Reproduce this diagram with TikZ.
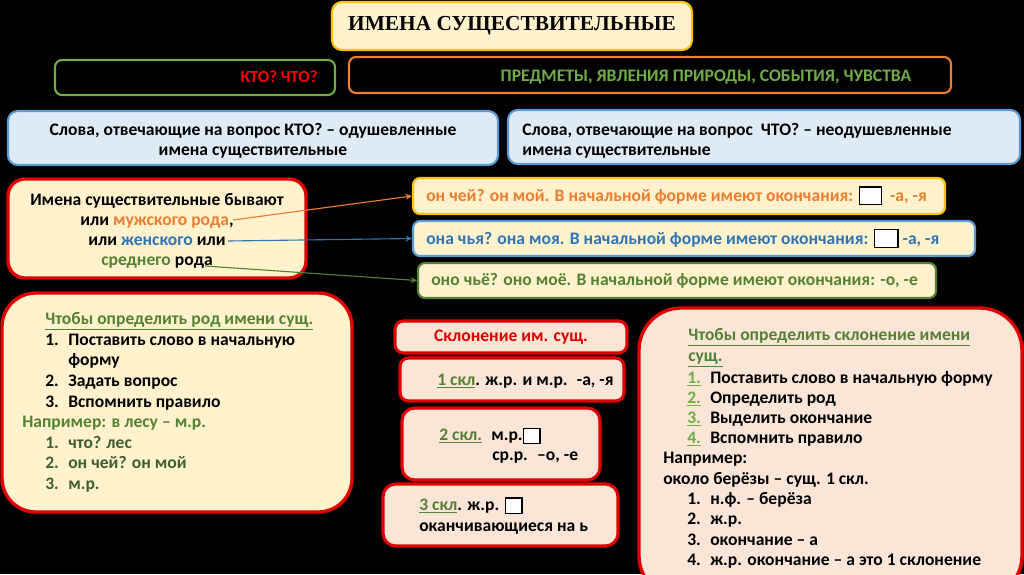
\documentclass[tikz,border=0pt]{standalone}
\usepackage{fontspec}
\setmainfont{Carlito}
\newfontfamily\titlefont{Liberation Serif}
\usetikzlibrary{arrows.meta}

\definecolor{cream}{HTML}{FFF2CC}
\definecolor{pinkish}{HTML}{FBE5D6}
\definecolor{skyfill}{HTML}{DEEBF7}
\definecolor{gold}{HTML}{FFC000}
\definecolor{grn}{HTML}{70AD47}
\definecolor{dgrn}{HTML}{548235}
\definecolor{exgrn}{HTML}{3F5F30}
\definecolor{orng}{HTML}{ED7D31}
\definecolor{blu}{HTML}{5B9BD5}
\definecolor{dblu}{HTML}{2E75B6}
\definecolor{rd}{HTML}{E00000}

% empty square = zero ending
\newcommand{\zerobox}[2]{\raisebox{-2pt}{\setlength{\fboxsep}{0pt}\setlength{\fboxrule}{0.9pt}\fcolorbox{black}{white}{\rule{0pt}{#2}\hspace{#1}}}}

\begin{document}
\begin{tikzpicture}[x=0.025cm, y=-0.025cm, font=\bfseries\fontsize{12.5}{15}\selectfont,
  panel/.style 2 args={minimum width=#1*0.025cm, minimum height=#2*0.025cm, inner sep=0pt},
  yel/.style={draw=gold, fill=cream, line width=1.5pt, rounded corners=7pt},
  sky/.style={draw=blu, fill=skyfill, line width=1.5pt, rounded corners=7pt},
  ans/.style={fill=cream, line width=1.5pt, rounded corners=5pt},
  big/.style={draw=rd, line width=2.4pt},
  skl/.style={draw=rd, fill=pinkish, line width=2.2pt, rounded corners=6pt},
  txt/.style={anchor=base west, inner sep=0pt},
  ctr/.style={anchor=base, inner sep=0pt},
  link/.style={-{Stealth[length=1.6mm, width=1.5mm]}, line width=0.8pt}]
\useasboundingbox (0,0) rectangle (1024,574);
\clip (0,0) rectangle (1024,574);
\fill[black] (0,0) rectangle (1024,574);

% top rows
\node[panel={360}{48}, yel] (title) at (512,26) {\titlefont\fontsize{15.2}{16}\selectfont ИМЕНА СУЩЕСТВИТЕЛЬНЫЕ};
\node[panel={280}{35}, draw=grn, line width=1.5pt, rounded corners=5pt] (who) at (195,77.5) {};
\node[txt, anchor=base east, text=red, font=\bfseries\fontsize{12}{14}\selectfont] (whot) at (318,82) {КТО? ЧТО?};
\node[panel={602}{36}, draw=orng, line width=1.5pt, rounded corners=5pt] (what) at (650,75) {};
\node[ctr, text=grn, font=\bfseries\fontsize{12.5}{14}\selectfont] (whatt) at (706,81) {ПРЕДМЕТЫ, ЯВЛЕНИЯ ПРИРОДЫ, СОБЫТИЯ, ЧУВСТВА};

\node[panel={490}{54}, sky] (anim) at (253,138) {};
\node[ctr] (an1) at (253,135) {Слова, отвечающие на вопрос КТО? – одушевленные};
\node[ctr] (an2) at (253,155) {имена существительные};
\node[panel={512}{54}, sky] (inan) at (764,137) {};
\node[txt] (in1) at (522,135) {Слова, отвечающие на вопрос \ ЧТО? – неодушевленные};
\node[txt] (in2) at (522,155) {имена существительные};

% gender
\node[panel={298}{99}, big, fill=cream, rounded corners=12pt] (gender) at (157,228.5) {};
\node[ctr] (g1) at (157,205) {Имена существительные бывают};
\node[ctr] (g2) at (157,225) {или \textcolor{orng}{мужского рода},};
\node[ctr] (g3) at (157,245) {или \textcolor{dblu}{женского} или};
\node[ctr] (g4) at (157,265) {\textcolor{dgrn}{среднего} рода};

\node[panel={532}{36}, ans, draw=gold] (masc) at (679,196) {};
\node[txt, text=orng] (mt) at (426,201) {он чей? он мой. В начальной форме имеют окончания: \zerobox{15pt}{11.5pt}\ \ -а, -я};
\node[panel={562}{35}, ans, draw=blu] (fem) at (694,238.5) {};
\node[txt, text=dblu] (ft) at (426,244) {она чья? она моя. В начальной форме имеют окончания: \zerobox{16pt}{12pt} -а, -я};
\node[panel={518}{35}, ans, draw=dgrn] (neut) at (677,280.5) {};
\node[txt, text=dgrn] (nt) at (431,285) {оно чьё? оно моё. В начальной форме имеют окончания: -о, -е};

\coordinate (m0) at (233,220);
\coordinate (f0) at (228,241);
\coordinate (n0) at (205,266);
\draw[link, orng] (m0) -- (masc.west);
\draw[link, dblu] (f0) -- (fem.west);
\draw[link, dgrn] (n0) -- (neut.west);

% how to find the gender
\node[panel={350}{219}, big, fill=cream, rounded corners=24pt] (genrule) at (177,402.5) {};
\node[txt, text=dgrn] (r0) at (45,324) {\underline{Чтобы определить род имени сущ.}};
\node[txt] (r1n) at (45,345) {1.}; \node[txt] (r1) at (68,345) {Поставить слово в начальную};
\node[txt] (r1b) at (68,365) {форму};
\node[txt] (r2n) at (45,386) {2.}; \node[txt] (r2) at (68,386) {Задать вопрос};
\node[txt] (r3n) at (45,407) {3.}; \node[txt] (r3) at (68,407) {Вспомнить правило};
\node[txt, text=dgrn] (ex) at (22,427) {Например: в лесу – м.р.};
\node[txt, text=exgrn] (e1n) at (45,448) {1.}; \node[txt, text=exgrn] (e1) at (68,448) {что? лес};
\node[txt, text=exgrn] (e2n) at (45,468) {2.}; \node[txt, text=exgrn] (e2) at (68,468) {он чей? он мой};
\node[txt, text=exgrn] (e3n) at (45,489) {3.}; \node[txt, text=exgrn] (e3) at (68,489) {м.р.};

% declensions
\node[panel={232}{32}, skl] (decl) at (511,337) {\textcolor{rd}{Склонение им. сущ.}};
\node[panel={224}{43}, skl] (decl1) at (512,379.5) {};
\node[txt] (d1) at (437,385) {\textcolor{dgrn}{\underline{1 скл}}. ж.р. и м.р. \ -а, -я};
\node[panel={198}{72}, skl, rounded corners=9pt] (decl2) at (501,444) {};
\node[txt, text=dgrn] (d2n) at (439,440) {\underline{2 скл.}};
\node[txt] (d2a) at (491,440) {м.р.\zerobox{11pt}{9.5pt}};
\node[txt] (d2b) at (492,460) {ср.р. \ –о, -е};
\node[panel={235}{62}, skl, rounded corners=9pt] (decl3) at (500.5,515) {};
\node[txt] (d3a) at (419,510) {\textcolor{dgrn}{\underline{3 скл}}. ж.р. \zerobox{11pt}{10pt}};
\node[txt] (d3b) at (419,531) {оканчивающиеся на ь};

% how to find the declension
\node[panel={383}{290}, big, fill=pinkish, rounded corners=30pt] (declrule) at (830.5,453) {};
\node[txt, text=dgrn] (s0) at (688,340) {\underline{Чтобы определить склонение имени}};
\node[txt, text=dgrn] (s0b) at (688,361) {\underline{сущ.}};
\node[txt, text=grn] (s1n) at (687,383) {\underline{1.}}; \node[txt] (s1) at (710,383) {Поставить слово в начальную форму};
\node[txt, text=grn] (s2n) at (687,403) {\underline{2.}}; \node[txt] (s2) at (710,403) {Определить род};
\node[txt, text=grn] (s3n) at (687,423) {\underline{3.}}; \node[txt] (s3) at (710,423) {Выделить окончание};
\node[txt, text=grn] (s4n) at (687,443) {\underline{4.}}; \node[txt] (s4) at (710,443) {Вспомнить правило};
\node[txt] (sx) at (663,463) {Например:};
\node[txt] (sx2) at (663,484) {около берёзы – сущ. 1 скл.};
\node[txt] (t1n) at (687,504) {1.}; \node[txt] (t1) at (710,504) {н.ф. – берёза};
\node[txt] (t2n) at (687,524) {2.}; \node[txt] (t2) at (710,524) {ж.р.};
\node[txt] (t3n) at (687,545) {3.}; \node[txt] (t3) at (710,545) {окончание – а};
\node[txt] (t4n) at (687,565) {4.}; \node[txt] (t4) at (710,565) {ж.р. окончание – а это 1 склонение};
\end{tikzpicture}
\end{document}
